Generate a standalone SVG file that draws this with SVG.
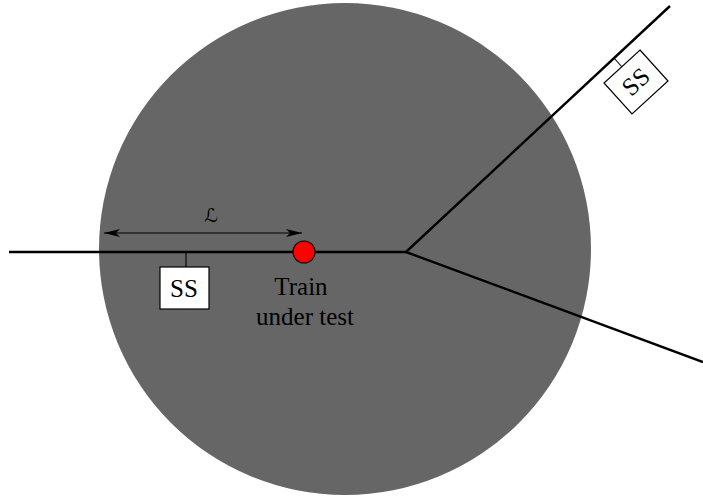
<svg xmlns="http://www.w3.org/2000/svg" width="703" height="498" viewBox="0 0 703 498">
<style>
text{font-family:"Liberation Serif","Times New Roman",serif;fill:#000}
.t{font-size:25px;text-anchor:middle}
.track{fill:none;stroke:#000;stroke-width:2.4}
.thin{fill:none;stroke:#000;stroke-width:1.1}
.box{fill:#fff;stroke:#000;stroke-width:1.2}
.ss{font-size:25px;text-anchor:middle}
</style>
<defs>
<marker id="ah" markerUnits="userSpaceOnUse" markerWidth="16" markerHeight="8" refX="16" refY="4" orient="auto-start-reverse"><path d="M0 0L16 4L0 8L4 4Z" fill="#000"/></marker>
</defs>
<g id="zone"><circle cx="345" cy="249" r="246" fill="#666"/></g>
<g id="connectors">
<path class="track" d="M9 252H406L670 6"/>
<path class="track" d="M406 252L703 362"/>
<path class="thin" d="M186 252V267"/>
<path class="thin" d="M614 58L622 67"/>
<path class="thin" d="M104 233H302" marker-start="url(#ah)" marker-end="url(#ah)"/>
</g>
<g id="label-l"><text x="211" y="222" font-size="19" text-anchor="middle" style="font-family:'DejaVu Serif','DejaVu Sans',serif">ℒ</text></g>
<g id="train"><circle cx="304" cy="252" r="11" fill="#f00" stroke="#000" stroke-width="1.1"/>
<text class="t" x="301" y="295">Train</text><text class="t" x="305" y="325">under test</text></g>
<g id="ss-left"><rect class="box" x="160" y="267" width="49" height="42"/><text class="ss" x="184" y="297">SS</text></g>
<g id="ss-right"><path class="box" d="M640 50L668 81L632 114L604 83Z"/><text class="ss" transform="translate(636 82) rotate(-43)" x="0" y="8">SS</text></g>
</svg>
